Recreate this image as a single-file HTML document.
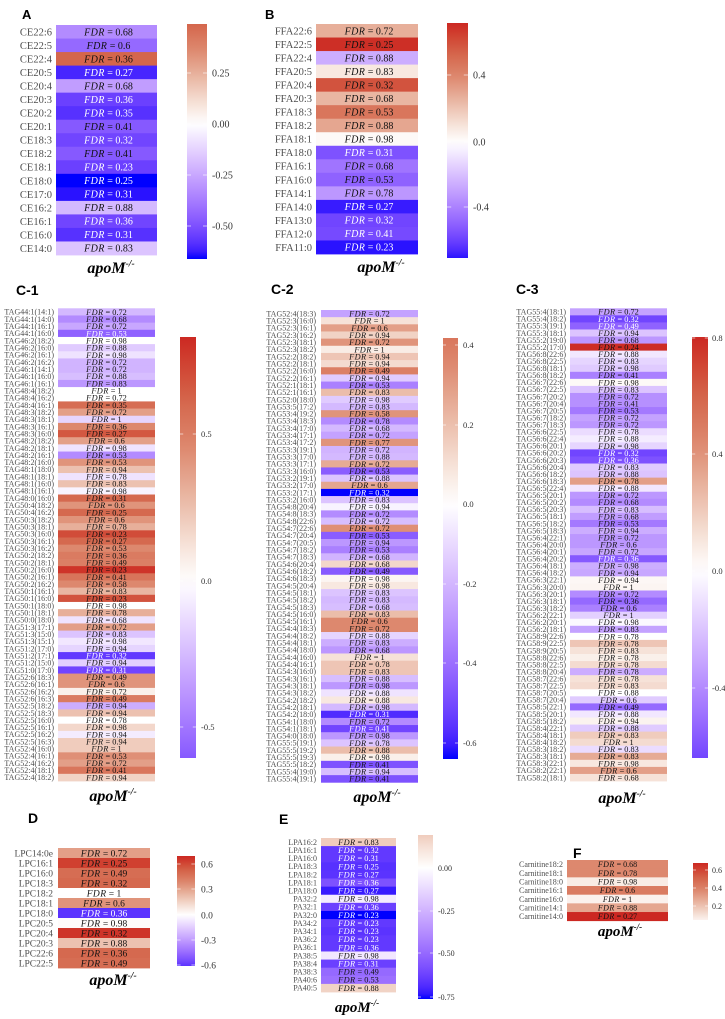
<!DOCTYPE html>
<html><head><meta charset="utf-8">
<style>
html,body{margin:0;padding:0;background:#fff;}
svg{display:block;}
.lab{font-family:"Liberation Serif",serif;fill:#4d4d4d;}
.tk{font-family:"Liberation Serif",serif;fill:#333;}
.ttl{font-family:"Liberation Sans",sans-serif;font-weight:bold;fill:#000;}
.ap{font-family:"Liberation Serif",serif;font-weight:bold;font-style:italic;fill:#000;}
.ct{font-family:"Liberation Serif",serif;}
</style></head><body>
<svg id="s" width="725" height="1019" xmlns="http://www.w3.org/2000/svg"><defs id="d"></defs></svg>
<script>
const NS="http://www.w3.org/2000/svg";
const svg=document.getElementById('s');
const defs=document.getElementById('d');
function el(tag,attrs,parent,text){const e=document.createElementNS(NS,tag);for(const k in attrs)e.setAttribute(k,attrs[k]);if(text!=null)e.textContent=text;(parent||svg).appendChild(e);return e;}
function lin(c){c/=255;return c<=0.04045?c/12.92:Math.pow((c+0.055)/1.055,2.4);}
function gam(c){c=c<=0.0031308?12.92*c:1.055*Math.pow(c,1/2.4)-0.055;return Math.round(Math.max(0,Math.min(1,c))*255);}
const Xn=0.95047,Zn=1.08883;
function f(t){return t>0.008856?Math.cbrt(t):7.787*t+16/116;}
function fi(t){const t3=t*t*t;return t3>0.008856?t3:(t-16/116)/7.787;}
function toLab(h){const r=lin(parseInt(h.substr(1,2),16)),g=lin(parseInt(h.substr(3,2),16)),b=lin(parseInt(h.substr(5,2),16));
const X=0.4124564*r+0.3575761*g+0.1804375*b,Y=0.2126729*r+0.7151522*g+0.0721750*b,Z=0.0193339*r+0.1191920*g+0.9503041*b;
const fx=f(X/Xn),fy=f(Y),fz=f(Z/Zn);return [116*fy-16,500*(fx-fy),200*(fy-fz)];}
function fromLab(L,a,b){const fy=(L+16)/116,fx=fy+a/500,fz=fy-b/200;const X=Xn*fi(fx),Y=fi(fy),Z=Zn*fi(fz);
const r=3.2404542*X-1.5371385*Y-0.4985314*Z,g=-0.9692660*X+1.8760108*Y+0.0415560*Z,bb=0.0556434*X-0.2040259*Y+1.0572252*Z;
return 'rgb('+gam(r)+','+gam(g)+','+gam(bb)+')';}
const W=toLab('#ffffff'),B=toLab('#0000ff');
const RS=[[0,255,255,255],[0.15,246,226,216],[0.35,233,182,162],[0.55,221,136,110],[0.75,212,100,74],[0.9,208,64,48],[1,204,40,34]];
function red(t){for(let i=1;i<RS.length;i++){if(t<=RS[i][0]){const a=RS[i-1],b=RS[i],u=(t-a[0])/(b[0]-a[0]);return 'rgb('+Math.round(a[1]+(b[1]-a[1])*u)+','+Math.round(a[2]+(b[2]-a[2])*u)+','+Math.round(a[3]+(b[3]-a[3])*u)+')';}}return 'rgb(204,40,34)';}
function col(s){const t=Math.min(1,Math.abs(s));if(s>=0)return red(t);return fromLab(W[0]+(B[0]-W[0])*t,W[1]+(B[1]-W[1])*t,W[2]+(B[2]-W[2])*t);}

function panel(p){
 const rows=p.rows.map(r=>r.split('|'));
 const n=rows.length, rh=(p.y1-p.y0)/n, cx=(p.x0+p.x1)/2+(p.off||0);
 rows.forEach((r,i)=>{
  el('rect',{x:p.x0,y:p.y0+i*rh,width:p.x1-p.x0,height:rh+0.4,fill:col(+r[2])});
 });
 rows.forEach((r,i)=>{
  const yc=p.y0+(i+0.5)*rh;
  el('text',{x:p.lx,y:yc,dy:'0.35em','text-anchor':'end','font-size':p.lf,class:'lab'},null,r[0]);
  const t=el('text',{x:cx,y:yc,dy:'0.35em','text-anchor':'middle','font-size':p.cf,class:'ct',fill:r[3]?'#fff':'#111'});
  el('tspan',{'font-style':'italic','letter-spacing':'0.4'},t,'FDR');
  el('tspan',{},t,' = '+r[1]);
 });
 const id='g'+p.id;
 const gr=el('linearGradient',{id:id,x1:0,y1:0,x2:0,y2:1},defs);
 for(let i=0;i<=30;i++){const s=p.smax+(p.smin-p.smax)*i/30;el('stop',{offset:i/30,'stop-color':col(s)},gr);}
 el('rect',{x:p.bx0,y:p.by0,width:p.bx1-p.bx0,height:p.by1-p.by0,fill:'url(#'+id+')'});
 p.ticks.forEach(([l,y])=>{
  const w=(p.bx1-p.bx0)/5;
  el('line',{x1:p.bx0,x2:p.bx0+w,y1:y,y2:y,stroke:'#fff','stroke-width':0.6});
  el('line',{x1:p.bx1-w,x2:p.bx1,y1:y,y2:y,stroke:'#fff','stroke-width':0.6});
  el('text',{x:p.tx,y:y,dy:'0.35em','font-size':p.tf,class:'tk'},null,l);
 });
 const a=el('text',{x:p.ax,y:p.ay,'text-anchor':'middle','font-size':p.af,class:'ap'});
 el('tspan',{},a,'apoM');
 el('tspan',{dy:-p.af*0.4,'font-size':p.af*0.6},a,'-/-');
 el('text',{x:p.tx0,y:p.ty0,'font-size':p.tfs,class:'ttl'},null,p.title);
}

panel({id:'A',title:'A',tx0:22,ty0:19,tfs:13,x0:56,x1:157,y0:25,y1:255,lx:52,lf:10.5,cf:10,off:2,
 bx0:187,bx1:207,by0:24,by1:259,smax:0.74,smin:-1,tx:212,tf:10,
 ticks:[['0.25',73],['0.00',124],['-0.25',175],['-0.50',226]],ax:111,ay:273,af:16,
 rows:["CE22:6|0.68|-0.5","CE22:5|0.6|-0.65","CE22:4|0.36|0.74","CE20:5|0.27|-0.92|w","CE20:4|0.68|-0.42","CE20:3|0.36|-0.82|w","CE20:2|0.35|-0.88|w","CE20:1|0.41|-0.72","CE18:3|0.32|-0.8|w","CE18:2|0.41|-0.72","CE18:1|0.23|-0.82|w","CE18:0|0.25|-1|w","CE17:0|0.31|-0.97|w","CE16:2|0.88|-0.3","CE16:1|0.36|-0.8|w","CE16:0|0.31|-0.88|w","CE14:0|0.83|-0.25"]});

panel({id:'B',title:'B',tx0:265,ty0:19,tfs:13,x0:316,x1:418,y0:24,y1:254,lx:312,lf:10.5,cf:10,off:2,
 bx0:447,bx1:468,by0:23,by1:258,smax:1,smin:-0.97,tx:473,tf:10,
 ticks:[['0.4',75],['0.0',142],['-0.4',207]],ax:381,ay:272,af:16,
 rows:["FFA22:6|0.72|0.38","FFA22:5|0.25|0.97","FFA22:4|0.88|-0.35","FFA20:5|0.83|0.12","FFA20:4|0.32|0.82","FFA20:3|0.68|0.35","FFA18:3|0.53|0.65","FFA18:2|0.88|0.42","FFA18:1|0.98|0.03","FFA18:0|0.31|-0.75|w","FFA16:1|0.68|-0.6","FFA16:0|0.53|-0.68","FFA14:1|0.78|-0.45","FFA14:0|0.27|-0.95|w","FFA13:0|0.32|-0.8|w","FFA12:0|0.41|-0.78|w","FFA11:0|0.23|-0.97|w"]});

panel({id:'C1',title:'C-1',tx0:16,ty0:295,tfs:14,x0:58,x1:155,y0:308.3,y1:781,lx:54,lf:8,cf:8.3,
 bx0:180,bx1:196,by0:337,by1:758,smax:1,smin:-0.72,tx:201,tf:8.5,
 ticks:[['0.5',434],['0.0',581],['-0.5',727]],ax:113,ay:801,af:16,
 rows:["TAG44:1(14:1)|0.72|-0.3","TAG44:1(14:0)|0.68|-0.5","TAG44:1(16:1)|0.72|-0.38","TAG44:1(16:0)|0.53|-0.68|w","TAG46:2(18:2)|0.98|0","TAG46:2(16:0)|0.88|-0.22","TAG46:2(16:1)|0.98|-0.12","TAG46:2(16:2)|0.72|-0.32","TAG46:1(14:1)|0.72|-0.32","TAG46:1(16:0)|0.88|-0.28","TAG46:1(16:1)|0.83|-0.45","TAG48:4(18:2)|1|0","TAG48:4(16:2)|0.72|0","TAG48:4(16:1)|0.35|0.7","TAG48:3(18:2)|0.72|0.45","TAG48:3(18:1)|1|-0.18","TAG48:3(16:1)|0.36|0.55","TAG48:3(16:0)|0.27|0.8","TAG48:2(18:2)|0.6|0.45","TAG48:2(18:1)|0.98|-0.12","TAG48:2(16:1)|0.53|-0.5","TAG48:2(16:0)|0.53|0.5","TAG48:1(18:0)|0.94|0.3","TAG48:1(18:1)|0.78|-0.12","TAG48:1(16:0)|0.83|0.3","TAG48:1(16:1)|0.98|-0.05","TAG48:0(16:0)|0.31|0.72","TAG50:4(18:2)|0.6|0.5","TAG50:4(16:2)|0.25|0.72","TAG50:3(18:2)|0.6|0.5","TAG50:3(18:1)|0.78|0.38","TAG50:3(16:0)|0.23|0.85","TAG50:3(16:1)|0.27|0.72","TAG50:3(16:2)|0.53|0.55","TAG50:2(18:2)|0.36|0.62","TAG50:2(18:1)|0.49|0.6","TAG50:2(16:0)|0.23|0.95","TAG50:2(16:1)|0.41|0.66","TAG50:2(16:2)|0.58|0.55","TAG50:1(16:1)|0.83|0.35","TAG50:1(16:0)|0.23|0.82","TAG50:1(18:0)|0.98|0","TAG50:1(18:1)|0.78|0.38","TAG50:0(18:0)|0.68|-0.12","TAG51:3(17:1)|0.72|0.45","TAG51:3(15:0)|0.83|-0.25","TAG51:3(15:1)|0.98|-0.1","TAG51:2(17:0)|0.94|-0.18","TAG51:2(17:1)|0.32|-0.85|w","TAG51:2(15:0)|0.94|-0.2","TAG51:0(17:0)|0.31|-0.8|w","TAG52:6(18:3)|0.49|0.5","TAG52:6(16:1)|0.6|0.5","TAG52:6(16:2)|0.72|0.08","TAG52:6(16:3)|0.49|0.62","TAG52:5(18:2)|0.94|-0.35","TAG52:5(18:3)|0.94|0.3","TAG52:5(16:0)|0.78|0","TAG52:5(16:1)|0.98|0.2","TAG52:5(16:2)|0.94|-0.08","TAG52:5(16:3)|0.94|0.25","TAG52:4(16:0)|1|0.25","TAG52:4(16:1)|0.53|0.52","TAG52:4(16:2)|0.72|0.45","TAG52:4(18:1)|0.41|0.65","TAG52:4(18:2)|0.94|0.22"]});

panel({id:'C2',title:'C-2',tx0:271,ty0:294,tfs:14,x0:321,x1:418,y0:310,y1:782.3,lx:316,lf:8,cf:8.3,
 bx0:443,bx1:458,by0:338,by1:759,smax:0.65,smin:-1,tx:463,tf:8.5,
 ticks:[['0.4',345],['0.2',425],['0.0',504],['-0.2',584],['-0.4',663],['-0.6',743]],ax:377,ay:802,af:16,
 rows:["TAG52:4(18:3)|0.72|-0.4","TAG52:3(16:0)|1|0.15","TAG52:3(16:1)|0.6|0.45","TAG52:3(16:2)|0.94|0.22","TAG52:3(18:1)|0.72|0.5","TAG52:3(18:2)|1|0.1","TAG52:2(18:2)|0.94|0.28","TAG52:2(18:1)|0.94|0.18","TAG52:2(16:0)|0.49|0.6","TAG52:2(16:1)|0.94|-0.22","TAG52:1(18:1)|0.53|-0.55","TAG52:1(16:1)|0.83|0.32","TAG52:0(18:0)|0.98|-0.22","TAG53:5(17:2)|0.83|-0.3","TAG53:4(19:2)|0.58|0.5","TAG53:4(18:3)|0.78|-0.5","TAG53:4(17:0)|0.68|-0.3","TAG53:4(17:1)|0.72|-0.4","TAG53:4(17:2)|0.77|0.5","TAG53:3(19:1)|0.72|-0.32","TAG53:3(17:0)|0.88|-0.3","TAG53:3(17:1)|0.72|0.4","TAG53:3(16:0)|0.53|-0.7","TAG53:2(19:1)|0.88|-0.25","TAG53:2(17:0)|0.6|0.42","TAG53:2(17:1)|0.32|-1|w","TAG53:2(16:0)|0.83|-0.25","TAG54:8(20:4)|0.94|-0.05","TAG54:8(18:3)|0.72|-0.5","TAG54:8(22:6)|0.72|-0.28","TAG54:7(22:6)|0.72|0.52","TAG54:7(20:4)|0.53|-0.7","TAG54:7(20:5)|0.94|-0.45","TAG54:7(18:2)|0.53|-0.55","TAG54:7(18:3)|0.68|-0.32","TAG54:6(20:4)|0.68|0.2","TAG54:6(18:2)|0.49|-0.72","TAG54:6(18:3)|0.98|0.05","TAG54:5(20:4)|0.98|0.12","TAG54:5(18:1)|0.83|-0.25","TAG54:5(18:2)|0.83|-0.3","TAG54:5(18:3)|0.68|-0.28","TAG54:5(16:0)|0.83|0.32","TAG54:5(16:1)|0.6|0.55","TAG54:4(18:3)|0.72|0.55","TAG54:4(18:2)|0.88|-0.18","TAG54:4(18:1)|0.83|-0.35","TAG54:4(18:0)|0.68|-0.45","TAG54:4(16:0)|1|0.15","TAG54:4(16:1)|0.78|0.28","TAG54:3(16:0)|0.83|0.28","TAG54:3(16:1)|0.88|-0.28","TAG54:3(18:1)|0.98|-0.45","TAG54:3(18:2)|0.88|-0.12","TAG54:2(18:2)|0.88|0.12","TAG54:2(18:1)|0.98|-0.3","TAG54:2(18:0)|0.31|-0.9|w","TAG54:1(18:0)|0.72|-0.5","TAG54:1(18:1)|0.41|-0.8|w","TAG54:0(18:0)|0.98|-0.45","TAG55:5(19:1)|0.78|-0.25","TAG55:5(19:2)|0.88|0.32","TAG55:5(19:3)|0.98|0.08","TAG55:5(18:2)|0.41|-0.75","TAG55:4(19:0)|0.94|-0.28","TAG55:4(19:1)|0.41|-0.75"]});

panel({id:'C3',title:'C-3',tx0:516,ty0:294,tfs:14,x0:570,x1:667,y0:308.3,y1:781,lx:566,lf:8,cf:8.3,
 bx0:692,bx1:708,by0:337,by1:758,smax:1,smin:-0.8,tx:712,tf:8.5,
 ticks:[['0.8',338],['0.4',454],['0.0',571],['-0.4',688]],ax:622,ay:803,af:16,
 rows:["TAG55:4(18:1)|0.72|-0.4","TAG55:4(18:2)|0.32|-0.8|w","TAG55:3(19:1)|0.49|-0.68|w","TAG55:3(18:1)|0.94|-0.25","TAG55:2(19:0)|0.68|-0.45","TAG55:2(17:0)|0.24|0.98","TAG56:8(22:6)|0.88|-0.1","TAG56:8(22:5)|0.83|-0.18","TAG56:8(18:1)|0.98|-0.22","TAG56:8(18:2)|0.41|-0.55","TAG56:7(22:6)|0.98|0.03","TAG56:7(22:5)|0.83|-0.25","TAG56:7(20:2)|0.72|-0.48","TAG56:7(20:4)|0.41|-0.48","TAG56:7(20:5)|0.53|-0.58","TAG56:7(18:2)|0.72|-0.4","TAG56:7(18:3)|0.72|-0.45","TAG56:6(22:5)|0.78|-0.15","TAG56:6(22:4)|0.88|-0.08","TAG56:6(20:1)|0.98|-0.18","TAG56:6(20:2)|0.32|-0.8|w","TAG56:6(20:3)|0.36|-0.75|w","TAG56:6(20:4)|0.83|-0.22","TAG56:6(18:2)|0.88|-0.25","TAG56:6(18:3)|0.78|0.45","TAG56:5(22:4)|0.88|-0.1","TAG56:5(20:1)|0.72|-0.45","TAG56:5(20:2)|0.68|-0.5","TAG56:5(20:3)|0.83|-0.28","TAG56:5(18:1)|0.68|-0.42","TAG56:5(18:2)|0.53|-0.58","TAG56:5(18:3)|0.94|-0.35","TAG56:4(22:1)|0.72|-0.45","TAG56:4(20:0)|0.6|-0.45","TAG56:4(20:1)|0.72|-0.38","TAG56:4(20:2)|0.36|-0.72|w","TAG56:4(18:1)|0.98|-0.35","TAG56:4(18:2)|0.94|-0.38","TAG56:3(22:1)|0.94|0.04","TAG56:3(20:0)|1|0.05","TAG56:3(20:1)|0.72|-0.5","TAG56:3(18:1)|0.36|-0.65","TAG56:3(18:2)|0.6|-0.55","TAG56:2(22:1)|1|-0.2","TAG56:2(20:1)|0.98|-0.03","TAG56:2(18:1)|0.83|-0.4","TAG58:9(22:6)|0.78|0","TAG58:9(22:5)|0.78|0.28","TAG58:9(20:5)|0.83|0.15","TAG58:8(22:6)|0.78|0.08","TAG58:8(22:5)|0.78|0.18","TAG58:8(20:4)|0.78|-0.35","TAG58:7(22:6)|0.78|0.15","TAG58:7(22:5)|0.83|0.18","TAG58:7(20:5)|0.88|0","TAG58:7(20:4)|0.6|-0.22","TAG58:5(22:1)|0.49|-0.65","TAG58:5(20:1)|0.88|-0.1","TAG58:5(18:2)|0.94|0.06","TAG58:4(22:1)|0.88|-0.22","TAG58:4(18:1)|0.83|0.25","TAG58:4(18:2)|1|0.18","TAG58:3(18:2)|0.83|-0.15","TAG58:3(18:1)|0.83|0.4","TAG58:3(22:1)|0.98|0.12","TAG58:2(22:1)|0.6|0.45","TAG58:2(18:1)|0.68|0.15"]});

panel({id:'D',title:'D',tx0:28,ty0:823,tfs:14,x0:58,x1:150,y0:848,y1:968,lx:53,lf:9.5,cf:9.5,
 bx0:177,bx1:195,by0:856,by1:966,smax:1,smin:-0.87,tx:201,tf:9.5,
 ticks:[['0.6',864],['0.3',889],['0.0',915],['-0.3',940],['-0.6',965]],ax:113,ay:985,af:16,
 rows:["LPC14:0e|0.72|0.45","LPC16:1|0.25|0.9","LPC16:0|0.49|0.7","LPC18:3|0.32|0.72","LPC18:2|1|0","LPC18:1|0.6|0.5","LPC18:0|0.36|-0.87|w","LPC20:5|0.98|0.02","LPC20:4|0.32|0.95","LPC20:3|0.88|0.3","LPC22:6|0.36|0.72","LPC22:5|0.49|0.7"]});

panel({id:'E',title:'E',tx0:279,ty0:824,tfs:14,x0:321,x1:396,y0:838,y1:992,lx:317,lf:8,cf:8.3,
 bx0:418,bx1:433,by0:835,by1:999,smax:0.25,smin:-1,tx:438,tf:8,
 ticks:[['0.00',868],['-0.25',911],['-0.50',953],['-0.75',997]],ax:357,ay:1012,af:15,
 rows:["LPA16:2|0.83|0.25","LPA16:1|0.32|-0.85|w","LPA16:0|0.31|-0.85|w","LPA18:3|0.25|-0.88|w","LPA18:2|0.27|-0.87|w","LPA18:1|0.36|-0.75|w","LPA18:0|0.27|-0.95|w","PA32:2|0.98|-0.08","PA32:1|0.36|-0.82|w","PA32:0|0.23|-1|w","PA34:2|0.23|-0.85|w","PA34:1|0.23|-0.87|w","PA36:2|0.23|-0.85|w","PA36:1|0.36|-0.85|w","PA38:5|0.98|-0.1","PA38:4|0.31|-0.82|w","PA38:3|0.49|-0.65","PA40:6|0.53|-0.62","PA40:5|0.88|0.22"]});

panel({id:'F',title:'F',tx0:573,ty0:858,tfs:14,x0:567,x1:668,y0:860,y1:920.7,lx:563,lf:8,cf:8,
 bx0:693,bx1:708,by0:863,by1:920,smax:1,smin:0.065,tx:712,tf:8,
 ticks:[['0.6',870],['0.4',888],['0.2',906]],ax:620,ay:936,af:15,
 rows:["Carnitine18:2|0.68|0.55","Carnitine18:1|0.78|0.55","Carnitine18:0|0.98|0.1","Carnitine16:1|0.6|0.62","Carnitine16:0|1|0.07","Carnitine14:1|0.88|0.42","Carnitine14:0|0.27|1"]});
</script>
</body></html>
